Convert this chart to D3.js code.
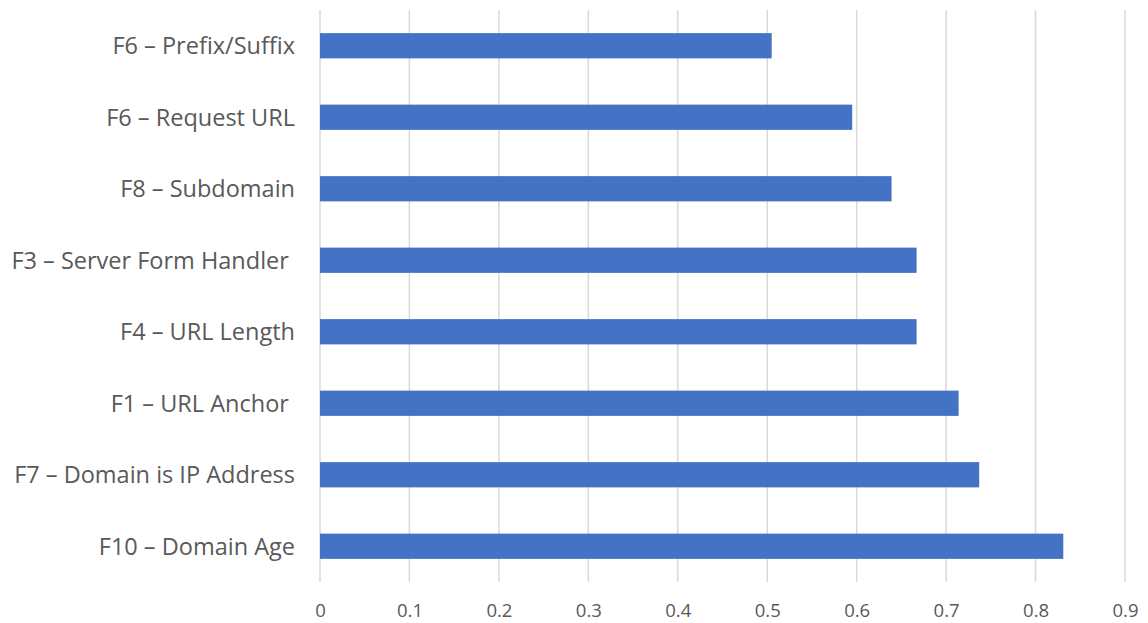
<!DOCTYPE html>
<html>
<head>
<meta charset="utf-8">
<script src="https://cdn.jsdelivr.net/npm/d3@7"></script>
<style>
  html, body { margin: 0; padding: 0; background: #fff; }
  svg text { font-family: "Open Sans", Lato, sans-serif; fill: #595959; white-space: pre; }
</style>
</head>
<body>
<svg id="chart" width="1148" height="623"></svg>
<script>
// Feature labels, top to bottom
const features = [
  "F6 \u2013 Prefix/Suffix",
  "F6 \u2013 Request URL",
  "F8 \u2013 Subdomain",
  "F3 \u2013 Server Form Handler ",
  "F4 \u2013 URL Length",
  "F1 \u2013 URL Anchor ",
  "F7 \u2013 Domain is IP Address",
  "F10 \u2013 Domain Age"
];
// Importance score for each feature
const scores = [0.505, 0.595, 0.639, 0.667, 0.667, 0.714, 0.737, 0.831];
// Value axis ticks
const xTicks = [0, 0.1, 0.2, 0.3, 0.4, 0.5, 0.6, 0.7, 0.8, 0.9];

const svg = d3.select("#chart");
const plotLeft = 320, plotRight = 1125, plotTop = 10, plotBottom = 582;

const x = d3.scaleLinear().domain([0, 0.9]).range([plotLeft, plotRight]);
const y = d3.scaleBand().domain(features).range([plotTop, plotBottom]).paddingInner(0.647).paddingOuter(0.3235);

// Vertical gridlines
svg.append("g").selectAll("line").data(xTicks).join("line")
  .attr("x1", d => x(d)).attr("x2", d => x(d))
  .attr("y1", plotTop).attr("y2", plotBottom)
  .attr("stroke", "#d9d9d9").attr("stroke-width", 1.5);

// Bars
svg.append("g").selectAll("rect").data(features).join("rect")
  .attr("x", x(0))
  .attr("y", d => y(d))
  .attr("width", (d, i) => x(scores[i]) - x(0))
  .attr("height", y.bandwidth())
  .attr("fill", "#4472C4");

// Category labels
svg.append("g").selectAll("text").data(features).join("text")
  .attr("x", 295)
  .attr("y", d => y(d) + y.bandwidth() / 2)
  .attr("dy", "0.36em")
  .attr("text-anchor", "end")
  .attr("font-size", 23.5)
  .text(d => d);

// Value tick labels
const xAxis = d3.axisBottom(x).tickValues(xTicks).tickSize(0).tickPadding(0).tickFormat(d3.format("~g"));
const gx = svg.append("g").attr("transform", `translate(0,${plotBottom})`).call(xAxis);
gx.select(".domain").remove();
gx.selectAll("text")
  .attr("y", 28)
  .attr("dy", "0.36em")
  .attr("font-size", 18.5)
  .style("font-family", "'Open Sans', Lato, sans-serif")
  .attr("fill", "#595959");
</script>
</body>
</html>
